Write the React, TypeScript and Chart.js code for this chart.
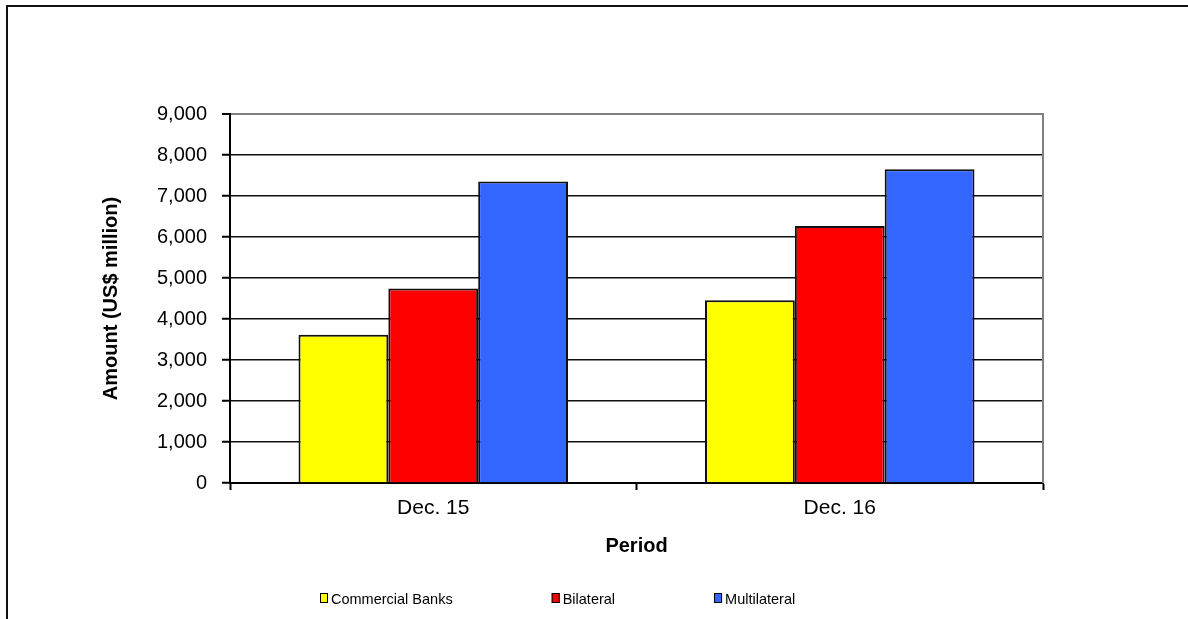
import React, { useEffect, useRef } from 'react';
import { Chart, registerables } from 'chart.js';

Chart.register(...registerables);

// Outstanding debt by creditor type, US$ million
const periods = ['Dec. 15', 'Dec. 16'];
const seriesNames = ['Commercial Banks', 'Bilateral', 'Multilateral'];
const commercialBanks = [3615, 4460];
const bilateral = [4745, 6270];
const multilateral = [7355, 7650];
const seriesColors = ['#FFFF00', '#FF0000', '#3366FF'];
const yTickValues = [0, 1000, 2000, 3000, 4000, 5000, 6000, 7000, 8000, 9000];

const yTitle = 'Amount (US$ million)';
const xTitle = 'Period';

const FONT = '"Liberation Sans", Arial, Helvetica, sans-serif';

// Gray frame line on the right side of the plot area
const plotFrame = {
  id: 'plotFrame',
  beforeDatasetsDraw(chart: any) {
    const { ctx, chartArea } = chart;
    ctx.save();
    ctx.strokeStyle = '#808080';
    ctx.lineWidth = 2;
    ctx.beginPath();
    ctx.moveTo(chartArea.right, chartArea.top - 1);
    ctx.lineTo(chartArea.right, chartArea.bottom);
    ctx.stroke();
    ctx.restore();
  },
};

// Series key laid out in one wide row under the axis title
const seriesKey = {
  id: 'seriesKey',
  afterDraw(chart: any) {
    const { ctx } = chart;
    const boxW = 8;
    const boxH = 10;
    const textGap = 3;
    const itemGap = 99;
    const centerX = 558;
    const boxTop = 593;
    const textY = 600;
    ctx.save();
    ctx.font = '14.5px ' + FONT;
    ctx.textBaseline = 'middle';
    ctx.textAlign = 'left';
    const items = chart.data.datasets.map((ds: any) => ({
      label: ds.label as string,
      color: ds.backgroundColor as string,
      width: boxW + textGap + ctx.measureText(ds.label).width,
    }));
    const total = items.reduce((s: number, it: any) => s + it.width, 0) + itemGap * (items.length - 1);
    let x = Math.round(centerX - total / 2);
    items.forEach((it: any) => {
      ctx.fillStyle = it.color;
      ctx.fillRect(x, boxTop, boxW, boxH);
      ctx.strokeStyle = '#000';
      ctx.lineWidth = 1;
      ctx.strokeRect(x + 0.5, boxTop + 0.5, boxW - 1, boxH - 1);
      ctx.fillStyle = '#000';
      ctx.fillText(it.label, x + boxW + textGap, textY);
      x += it.width + itemGap;
    });
    ctx.restore();
  },
};

export default function App() {
  const canvasRef = useRef<HTMLCanvasElement | null>(null);

  useEffect(() => {
    document.body.style.margin = '0';
    document.body.style.overflow = 'hidden';
    const canvas = canvasRef.current;
    if (!canvas) return;

    const seriesValues = [commercialBanks, bilateral, multilateral];

    const chart = new Chart(canvas, {
      type: 'bar',
      data: {
        labels: periods,
        datasets: seriesNames.map((name, i) => ({
          label: name,
          data: seriesValues[i],
          backgroundColor: seriesColors[i],
          borderColor: '#111',
          borderWidth: 2,
          barPercentage: 1,
          categoryPercentage: 0.663,
        })),
      },
      options: {
        responsive: false,
        animation: false,
        color: '#000',
        layout: { padding: { left: 99, top: 114, right: 145, bottom: 61 } },
        plugins: {
          legend: { display: false },
          tooltip: { enabled: false },
          title: { display: false },
        },
        scales: {
          x: {
            afterFit(scale: any) {
              scale.height = 75;
            },
            grid: {
              drawOnChartArea: false,
              drawTicks: true,
              tickLength: 7,
              tickColor: '#000',
              tickWidth: 2,
              offset: true,
            },
            border: { display: true, color: '#000', width: 2 },
            ticks: {
              color: '#000',
              padding: 6,
              font: { family: FONT, size: 21 },
            },
            title: {
              display: true,
              text: xTitle,
              color: '#000',
              padding: 0,
              font: { family: FONT, size: 20, weight: 'bold' },
            },
          },
          y: {
            min: 0,
            max: 9000,
            afterFit(scale: any) {
              scale.width = 131;
            },
            afterBuildTicks(scale: any) {
              scale.ticks = yTickValues.map((v) => ({ value: v }));
            },
            grid: {
              color: (c: any) => (c.tick && c.tick.value === 9000 ? '#808080' : '#111'),
              lineWidth: (c: any) => (c.tick && c.tick.value === 9000 ? 2 : 1.5),
              drawTicks: true,
              tickLength: 8,
              tickColor: '#000',
              tickWidth: 2,
            },
            border: { display: true, color: '#000', width: 2 },
            ticks: {
              color: '#000',
              padding: 15,
              font: { family: FONT, size: 20 },
              callback: (v: any) => Number(v).toLocaleString('en-US'),
            },
            title: {
              display: true,
              text: yTitle,
              color: '#000',
              padding: 0,
              font: { family: FONT, size: 20, weight: 'bold' },
            },
          },
        },
      },
      plugins: [plotFrame, seriesKey],
    } as any);

    return () => chart.destroy();
  }, []);

  return (
    <div style={{ position: 'relative', width: 1188, height: 619, background: '#fff', overflow: 'hidden' }}>
      <canvas ref={canvasRef} width={1188} height={619} style={{ display: 'block' }} />
      <div
        style={{
          position: 'absolute',
          left: 6,
          top: 5,
          right: 0,
          bottom: 0,
          borderLeft: '2px solid #111',
          borderTop: '2px solid #111',
          pointerEvents: 'none',
        }}
      />
    </div>
  );
}
